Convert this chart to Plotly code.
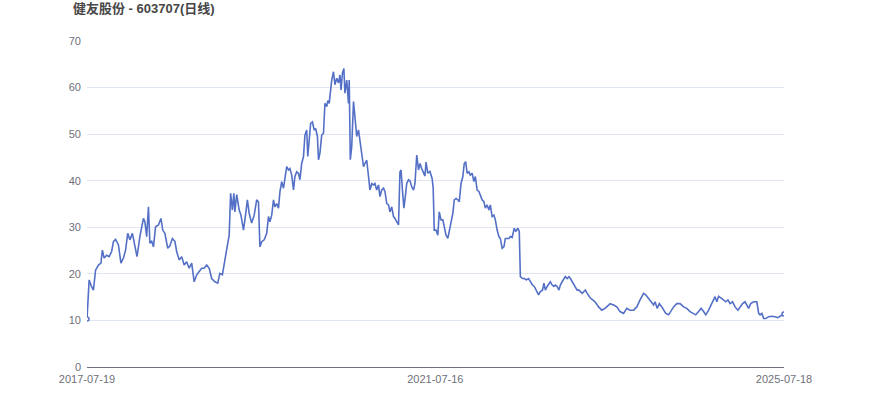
import plotly.graph_objects as go

title_text = "健友股份 - 603707(日线)"
tick_dates = ["2017-07-19", "2021-07-16", "2025-07-18"]
tick_days = [0, 975, 1951]
last_day = 1951

# trading-day index of each sampled observation
day_idx = [
    0, 6, 13, 18, 24, 32, 39, 43, 48, 55, 62, 69, 74, 80, 88, 95, 102, 108, 114, 120,
    127, 134, 140, 148, 158, 162, 167, 172, 176, 181, 186, 192, 200, 207, 212, 218, 226, 232, 239, 246,
    251, 258, 265, 272, 279, 286, 293, 300, 307, 314, 321, 328, 335, 342, 349, 358, 366, 372, 379, 386,
    394, 398, 402, 407, 411, 414, 419, 426, 431, 438, 442, 449, 454, 461, 468, 475, 480, 484,
    489, 496, 503, 508, 512, 517, 522, 526, 531, 536, 540, 545, 550, 554, 559, 564, 568, 573, 578, 582,
    587, 592, 596, 601, 606, 610, 615, 618, 622, 626, 631, 636, 640, 645, 648, 652, 657, 662, 666, 671,
    674, 678, 681, 685, 690, 694, 699, 704, 708, 711, 715, 719, 722, 727, 732, 734, 737, 741, 746, 750,
    755, 760, 764, 769, 774, 778, 783, 788, 792, 797, 802, 806, 811, 816, 820, 825, 830, 834, 839, 844,
    848, 853, 858, 862, 867, 872, 876, 879, 883, 887, 890, 895, 900, 904, 909, 914, 918, 923, 928, 932,
    937, 942, 946, 949, 954, 960, 966, 969, 972, 977, 982, 986, 991, 996, 1000, 1005, 1010, 1014, 1019, 1024,
    1028, 1033, 1038, 1042, 1047, 1052, 1056, 1060, 1064, 1069, 1073, 1078, 1083, 1087, 1092, 1097, 1101, 1106, 1111, 1115,
    1120, 1125, 1129, 1134, 1139, 1143, 1148, 1153, 1157, 1162, 1167, 1171, 1176, 1181, 1185, 1190, 1196, 1200, 1206, 1210,
    1213, 1219, 1224, 1230, 1236, 1241, 1247, 1252, 1258, 1264, 1269, 1275, 1279, 1283, 1288, 1293, 1297, 1302, 1307, 1311,
    1316, 1321, 1325, 1330, 1335, 1339, 1344, 1349, 1353, 1358, 1363, 1367, 1372, 1377, 1381, 1386, 1391, 1395, 1400, 1405,
    1409, 1422, 1432, 1441, 1450, 1460, 1464, 1474, 1483, 1492, 1502, 1511, 1520, 1530, 1539, 1548, 1558, 1564, 1572, 1579,
    1586, 1590, 1596, 1602, 1609, 1614, 1620, 1628, 1635, 1642, 1651, 1660, 1670, 1679, 1688, 1698, 1704, 1712, 1719, 1726,
    1732, 1740, 1747, 1754, 1758, 1763, 1768, 1775, 1782, 1788, 1794, 1800, 1807, 1814, 1822, 1828, 1835, 1842, 1847, 1852,
    1858, 1866, 1875, 1880, 1884, 1889, 1894, 1900, 1908, 1917, 1926, 1933, 1940, 1947, 1951,
]

close_price = [
    10.3, 18.7, 17.2, 16.5, 20.8, 21.9, 22.3, 25.1, 23.4, 24.0, 23.7, 24.8, 26.9, 27.4, 26.2, 22.3, 23.4, 25.1, 28.7, 27.3,
    28.7, 25.8, 23.7, 28.0, 31.9, 31.2, 28.0, 34.4, 26.6, 27.0, 25.8, 30.1, 30.5, 31.9, 29.4, 28.7, 25.5, 26.0, 27.6, 27.0,
    24.8, 23.0, 23.7, 21.9, 22.6, 21.2, 22.3, 18.3, 19.8, 20.5, 21.2, 21.2, 21.9, 21.2, 19.0, 18.3, 18.0, 20.1, 19.8, 23.0,
    26.2, 28.3, 37.3, 33.7, 37.3, 33.3, 37.0, 33.7, 32.6, 29.4, 31.6, 35.9, 33.0, 30.9, 32.6, 35.9, 35.4, 25.8,
    26.9, 27.3, 28.7, 32.3, 31.2, 32.6, 35.9, 34.4, 35.1, 34.1, 37.6, 39.8, 38.4, 40.9, 43.0, 42.3, 42.6, 41.2, 38.0, 40.9,
    41.9, 41.6, 40.2, 43.7, 45.2, 49.8, 50.9, 45.2, 49.5, 52.3, 52.6, 50.9, 51.2, 49.5, 44.5, 45.9, 49.8, 50.2, 56.6, 55.9,
    57.2, 56.6, 58.8, 61.6, 63.4, 60.6, 62.0, 61.0, 62.7, 59.5, 63.1, 64.1, 58.8, 61.6, 56.6, 61.6, 44.5, 47.3, 57.0, 53.8,
    49.5, 50.9, 48.7, 45.5, 43.0, 43.7, 44.4, 40.9, 38.0, 39.4, 39.1, 39.4, 38.0, 39.1, 36.6, 38.0, 38.4, 37.7, 35.1, 34.8,
    33.3, 34.4, 32.3, 31.9, 31.2, 30.5, 41.9, 42.3, 38.0, 34.1, 35.9, 39.4, 40.2, 40.0, 38.7, 38.0, 39.4, 45.5, 42.3, 43.7,
    42.6, 41.6, 41.0, 44.0, 41.6, 42.0, 40.5, 38.4, 29.4, 29.4, 28.3, 33.3, 31.6, 31.6, 29.8, 28.3, 27.6, 29.1, 30.9, 33.0,
    35.9, 36.2, 35.9, 35.5, 39.4, 40.9, 43.7, 44.1, 41.6, 41.9, 41.2, 41.6, 39.8, 40.9, 38.0, 37.7, 36.9, 35.9, 35.5, 34.1,
    34.8, 33.7, 34.8, 32.3, 32.6, 31.6, 29.4, 28.0, 27.6, 25.5, 25.8, 27.6, 27.6, 27.6, 28.0, 27.8, 29.8, 29.1, 29.8, 29.1,
    19.4, 19.0, 19.0, 18.7, 19.0, 18.3, 17.6, 17.3, 16.5, 15.5, 16.2, 16.5, 18.0, 16.5, 17.3, 18.0, 18.3, 17.6, 17.3, 17.6,
    17.3, 16.5, 17.6, 18.3, 19.0, 19.4, 19.0, 19.4, 19.0, 18.3, 17.6, 16.9, 16.5, 16.5, 16.2, 15.8, 16.2, 16.5, 15.8, 15.1,
    14.8, 14.0, 12.9, 12.2, 12.6, 13.3, 13.6, 13.3, 12.9, 11.9, 11.5, 12.6, 12.2, 12.2, 12.9, 14.4, 15.8, 15.5, 14.8, 14.0,
    13.3, 14.0, 12.6, 13.6, 12.9, 12.2, 11.5, 11.2, 12.2, 12.9, 13.6, 13.6, 12.9, 12.6, 11.9, 11.5, 11.2, 11.9, 12.6, 11.9,
    11.2, 12.2, 13.3, 14.4, 15.1, 14.0, 15.2, 14.8, 14.4, 14.0, 14.4, 13.6, 14.0, 12.9, 12.2, 12.9, 13.6, 14.0, 13.3, 12.6,
    13.6, 14.0, 14.0, 11.5, 11.2, 11.5, 10.4, 10.4, 10.8, 10.9, 10.8, 10.6, 10.9, 11.2, 11.4,
]

LINE_COLOR = "#5470c6"
AXIS_COLOR = "#6e7079"
GRID_COLOR = "#e0e6f1"
FONT = "Liberation Sans, Arial, Noto Sans CJK SC, sans-serif"

fig = go.Figure()
fig.add_trace(go.Scatter(
    x=day_idx, y=close_price, mode="lines",
    line=dict(color=LINE_COLOR, width=1.6),
    hoverinfo="skip", showlegend=False,
))
fig.add_trace(go.Scatter(
    x=[day_idx[0], day_idx[-1]], y=[close_price[0], close_price[-1]], mode="markers",
    marker=dict(color="#ffffff", size=4, line=dict(color=LINE_COLOR, width=1.5)),
    hoverinfo="skip", showlegend=False,
))

fig.update_layout(
    width=870, height=417,
    margin=dict(l=87, r=86, t=41, b=50),
    paper_bgcolor="#ffffff", plot_bgcolor="#ffffff",
    font=dict(family=FONT, size=12, color=AXIS_COLOR),
    title=dict(
        text="<b>" + title_text + "</b>",
        font=dict(family="Liberation Sans, Noto Sans CJK SC, sans-serif", size=13, color="#464646"),
        x=73 / 870, xanchor="left", xref="container",
        y=1 - 4 / 417, yanchor="top", yref="container",
    ),
    xaxis=dict(
        range=[0, last_day], tickvals=tick_days, ticktext=tick_dates,
        showgrid=False, zeroline=False, showline=True, linecolor=AXIS_COLOR, linewidth=1,
        ticks="", tickfont=dict(size=11, color=AXIS_COLOR), ticklabelstandoff=2,
    ),
    yaxis=dict(
        range=[0, 70], dtick=10, tick0=0,
        showgrid=True, gridcolor=GRID_COLOR, gridwidth=1, zeroline=False, showline=False,
        ticks="", tickfont=dict(size=11, color=AXIS_COLOR), ticklabelstandoff=5,
    ),
)

fig.write_html("out.html", config={"displayModeBar": False},
               post_script="document.body.style.margin='0';")
